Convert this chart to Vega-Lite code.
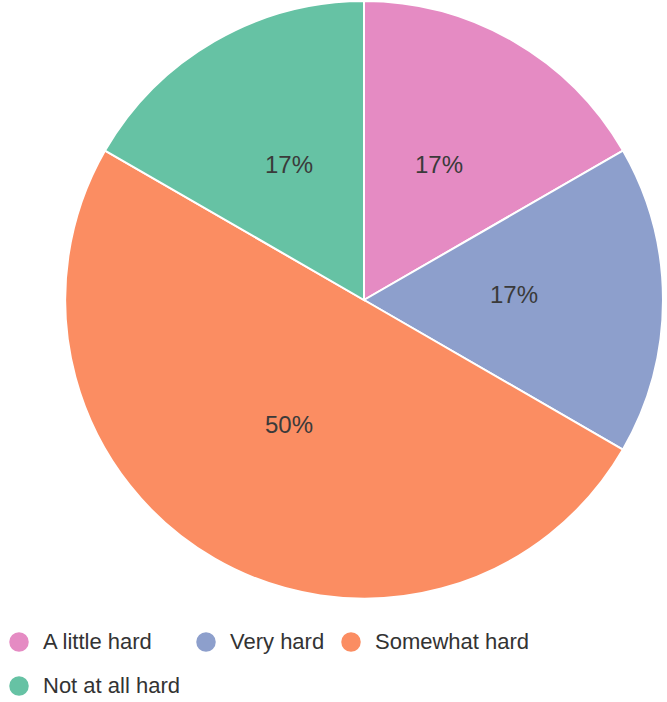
{
  "$schema": "https://vega.github.io/schema/vega-lite/v6.json",
  "autosize": "none",
  "width": 598,
  "height": 598,
  "padding": {"left": 65, "top": 1, "right": 4, "bottom": 103},
  "background": "white",
  "config": {"view": {"stroke": null}, "font": "Liberation Sans"},
  "data": {
    "values": [
      {"response": "A little hard", "share": 0.1667, "rank": 1},
      {"response": "Very hard", "share": 0.1667, "rank": 2},
      {"response": "Somewhat hard", "share": 0.5, "rank": 3},
      {"response": "Not at all hard", "share": 0.1667, "rank": 4}
    ]
  },
  "encoding": {
    "theta": {"field": "share", "type": "quantitative", "stack": true},
    "order": {"field": "rank", "type": "quantitative"},
    "color": {
      "field": "response",
      "type": "nominal",
      "scale": {
        "domain": ["A little hard", "Very hard", "Somewhat hard", "Not at all hard"],
        "range": ["#e58bc3", "#8d9fcc", "#fb8d62", "#66c2a4"]
      },
      "legend": {
        "title": null,
        "orient": "none",
        "legendX": -57,
        "legendY": 630,
        "direction": "horizontal",
        "columns": 3,
        "padding": 0,
        "symbolType": "circle",
        "symbolSize": 380,
        "symbolStrokeWidth": 0,
        "labelFont": "Liberation Sans",
        "labelFontSize": 22,
        "labelColor": "#333333",
        "labelOffset": 13,
        "columnPadding": 15,
        "rowPadding": 22,
        "labelLimit": 400
      }
    }
  },
  "layer": [
    {
      "mark": {"type": "arc", "stroke": "white", "strokeWidth": 2, "radius": 299}
    },
    {
      "mark": {"type": "text", "radius": 150, "dy": -4, "font": "Liberation Sans", "fontSize": 24, "fill": "#3a3a3a", "baseline": "middle", "align": "center"},
      "encoding": {
        "text": {"field": "share", "type": "quantitative", "format": ".0%"},
        "color": {"value": "#3a3a3a"}
      }
    }
  ]
}
